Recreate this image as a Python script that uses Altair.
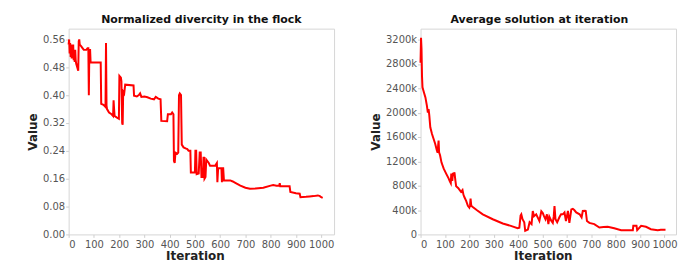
import altair as alt
import pandas as pd

# ---------------- data ----------------
div_iter = [0, 2, 4, 6, 8, 10, 12, 14, 16, 18, 20, 22, 24, 26, 28, 30, 32, 34, 36, 38,
            40, 42, 44, 50, 55, 60, 70, 75, 78, 80, 82, 85, 87, 127, 129, 138, 146, 148,
            150, 152, 160, 170, 176, 178, 180, 182, 190, 199, 201, 207, 209, 212, 214,
            216, 220, 224, 257, 259, 270, 278, 283, 288, 300, 312, 325, 338, 345, 355,
            364, 367, 390, 393, 405, 410, 415, 417, 420, 423, 430, 434, 437, 440, 445,
            448, 455, 463, 470, 475, 482, 484, 500, 502, 505, 507, 515, 519, 523, 526,
            532, 534, 536, 538, 542, 545, 550, 555, 560, 580, 587, 589, 592, 600, 605,
            607, 609, 612, 615, 640, 650, 660, 680, 700, 718, 740, 771, 800, 810, 823,
            834, 836, 838, 875, 878, 900, 915, 918, 940, 954, 970, 987, 995, 1000, 1006]
div_value = [0.545, 0.56, 0.52, 0.55, 0.51, 0.545, 0.505, 0.54, 0.52, 0.545, 0.50, 0.53,
             0.495, 0.53, 0.50, 0.49, 0.485, 0.49, 0.475, 0.47, 0.555, 0.56, 0.545, 0.54,
             0.535, 0.53, 0.53, 0.535, 0.535, 0.40, 0.53, 0.53, 0.494, 0.494, 0.375, 0.372,
             0.366, 0.55, 0.37, 0.36, 0.35, 0.345, 0.34, 0.385, 0.36, 0.34, 0.336, 0.332,
             0.455, 0.45, 0.44, 0.32, 0.315, 0.41, 0.405, 0.43, 0.428, 0.398, 0.396, 0.40,
             0.405, 0.395, 0.396, 0.394, 0.39, 0.388, 0.395, 0.39, 0.388, 0.326, 0.325,
             0.345, 0.345, 0.35, 0.345, 0.211, 0.205, 0.235, 0.232, 0.235, 0.40, 0.405,
             0.40, 0.258, 0.25, 0.247, 0.245, 0.24, 0.24, 0.178, 0.178, 0.24, 0.24, 0.173,
             0.175, 0.235, 0.235, 0.165, 0.165, 0.22, 0.22, 0.16, 0.165, 0.215, 0.21,
             0.205, 0.197, 0.197, 0.205, 0.15, 0.19, 0.19, 0.19, 0.15, 0.19, 0.19, 0.155,
             0.155, 0.152, 0.148, 0.14, 0.134, 0.131, 0.132, 0.134, 0.14, 0.142, 0.14,
             0.14, 0.147, 0.138, 0.138, 0.122, 0.118, 0.117, 0.107, 0.108, 0.109, 0.11,
             0.112, 0.11, 0.107, 0.105]

avg_iter = [0, 2, 4, 6, 8, 14, 20, 26, 30, 33, 36, 40, 47, 53, 60, 67, 70, 72, 74, 76,
            80, 86, 95, 106, 115, 120, 124, 126, 130, 133, 136, 139, 143, 146, 155, 160,
            166, 172, 176, 180, 187, 194, 200, 203, 205, 208, 214, 230, 255, 296, 337,
            370, 398, 405, 410, 413, 418, 425, 429, 440, 447, 455, 460, 465, 474, 480,
            487, 495, 501, 506, 512, 518, 524, 528, 535, 542, 546, 549, 553, 560, 570,
            576, 583, 590, 596, 600, 604, 610, 614, 618, 624, 630, 638, 652, 660, 665,
            674, 677, 682, 692, 712, 733, 750, 767, 794, 822, 849, 870, 872, 885, 888,
            904, 924, 944, 972, 985, 1004]
avg_value_k = [2820, 3230, 3050, 2600, 2415, 2330, 2250, 2116, 2000, 2060, 1950, 1760,
               1650, 1575, 1490, 1380, 1340, 1450, 1540, 1350, 1300, 1180, 1080, 990, 920,
               872, 840, 1000, 880, 1010, 960, 1020, 880, 790, 760, 730, 700, 730, 650,
               610, 550, 470, 440, 480, 590, 470, 450, 400, 330, 249, 179, 140, 103, 110,
               310, 330, 250, 200, 60, 80, 200, 170, 385, 300, 330, 280, 222, 380, 350,
               300, 250, 330, 170, 290, 230, 190, 300, 466, 250, 200, 290, 330, 330, 360,
               220, 300, 385, 190, 300, 411, 420, 400, 360, 330, 280, 385, 390, 385, 220,
               190, 170, 114, 120, 125, 100, 70, 70, 70, 141, 141, 70, 141, 125, 86, 70,
               75, 75]

iter_ticks = [0, 100, 200, 300, 400, 500, 600, 700, 800, 900, 1000]
div_ticks = [0.0, 0.08, 0.16, 0.24, 0.32, 0.40, 0.48, 0.56]
avg_ticks = [0, 400, 800, 1200, 1600, 2000, 2400, 2800, 3200]

titles = ["Normalized divercity in the flock", "Average solution at iteration"]

FONT = "DejaVu Sans"
RED = "#ff0000"

div_df = pd.DataFrame({"Iteration": div_iter, "Value": div_value})
avg_df = pd.DataFrame({"Iteration": avg_iter, "Value": avg_value_k})


def x_axis(title_x):
    return alt.Axis(title="Iteration", values=iter_ticks, format="d", grid=False,
                    domain=False, tickColor="#cfcfcf", tickSize=3, labelPadding=2,
                    labelColor="#555555", labelFontSize=10, labelFont=FONT,
                    titleFont=FONT, titleFontSize=12, titleFontWeight="bold",
                    titleColor="#222222", titlePadding=1, titleX=title_x)


def y_axis(values, fmt=None, expr=None):
    kw = dict(title="Value", values=values, grid=False, domain=False,
              tickColor="#cfcfcf", tickSize=3, labelPadding=1,
              labelColor="#555555", labelFontSize=10, labelFont=FONT,
              titleFont=FONT, titleFontSize=12, titleFontWeight="bold",
              titleColor="#222222", titlePadding=3)
    if fmt:
        kw["format"] = fmt
    if expr:
        kw["labelExpr"] = expr
    return alt.Axis(**kw)


left = alt.Chart(div_df).mark_line(color=RED, strokeWidth=2).encode(
    x=alt.X("Iteration:Q", scale=alt.Scale(domain=[0, 1051], nice=False), axis=x_axis(127)),
    y=alt.Y("Value:Q", scale=alt.Scale(domain=[0, 0.591], nice=False),
            axis=y_axis(div_ticks, fmt=".2f")),
).properties(
    width=267, height=207,
    title=alt.TitleParams(titles[0], font=FONT, fontSize=11, fontWeight="bold",
                          color="#111111", offset=4),
)

right = alt.Chart(avg_df).mark_line(color=RED, strokeWidth=2).encode(
    x=alt.X("Iteration:Q", scale=alt.Scale(domain=[0, 1047], nice=False), axis=x_axis(123)),
    y=alt.Y("Value:Q", scale=alt.Scale(domain=[0, 3380], nice=False),
            axis=y_axis(avg_ticks, expr="datum.value == 0 ? '0' : datum.value + 'k'")),
).properties(
    width=257, height=207,
    title=alt.TitleParams(titles[1], font=FONT, fontSize=11, fontWeight="bold",
                          color="#111111", offset=4, dx=-9),
)

chart = alt.hconcat(left, right, spacing=34).configure(
    padding={"left": 18, "top": 4, "right": 0, "bottom": 0},
    background="white",
).configure_view(stroke="#d6d6d6", strokeWidth=1)

chart.save("out.html", embed_options={"renderer": "svg", "actions": False})
